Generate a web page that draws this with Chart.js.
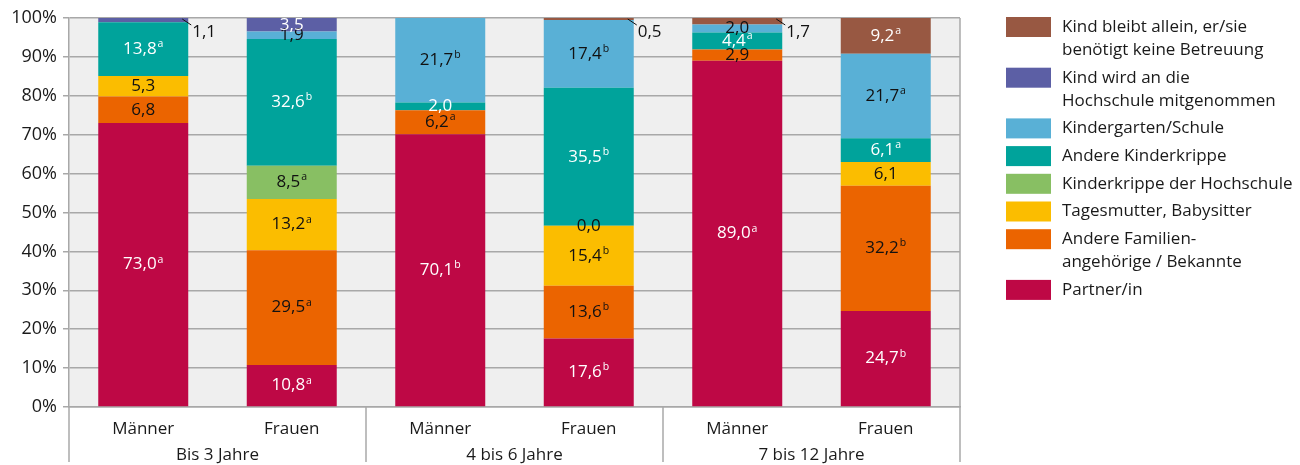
<!DOCTYPE html>
<html>
<head>
<meta charset="utf-8">
<script src="https://cdn.jsdelivr.net/npm/chart.js@4.4.1/dist/chart.umd.min.js"></script>
<style>
html,body{margin:0;padding:0;background:#fff;}
#wrap{width:1300px;height:465px;}
</style>
</head>
<body>
<div id="wrap"><canvas id="c" width="1300" height="465"></canvas></div>
<script>
// ---- data ----
const categories = ['Männer', 'Frauen', 'Männer', 'Frauen', 'Männer', 'Frauen'];
const groups = ['Bis 3 Jahre', '4 bis 6 Jahre', '7 bis 12 Jahre'];
const seriesNames = [
  ['Partner/in'],
  ['Andere Familien-', 'angehörige / Bekannte'],
  ['Tagesmutter, Babysitter'],
  ['Kinderkrippe der Hochschule'],
  ['Andere Kinderkrippe'],
  ['Kindergarten/Schule'],
  ['Kind wird an die', 'Hochschule mitgenommen'],
  ['Kind bleibt allein, er/sie', 'benötigt keine Betreuung']
];
const partner      = [73.0, 10.8, 70.1, 17.6, 89.0, 24.7];
const familie      = [6.8, 29.5, 6.2, 13.6, 2.9, 32.2];
const tagesmutter  = [5.3, 13.2, null, 15.4, null, 6.1];
const krippeHS     = [null, 8.5, null, 0.0, null, null];
const andereKrippe = [13.8, 32.6, 2.0, 35.5, 4.4, 6.1];
const kindergarten = [null, 1.9, 21.7, 17.4, 2.0, 21.7];
const mitgenommen  = [1.1, 3.5, null, null, null, null];
const allein       = [null, null, null, 0.5, 1.7, 9.2];

const supPartner      = ['a', 'a', 'b', 'b', 'a', 'b'];
const supFamilie      = ['', 'a', 'a', 'b', '', 'b'];
const supTagesmutter  = ['', 'a', '', 'b', '', ''];
const supKrippeHS     = ['', 'a', '', '', '', ''];
const supAndereKrippe = ['a', 'b', '', 'b', 'a', 'a'];
const supKindergarten = ['', '', 'b', 'b', '', 'a'];
const supMitgenommen  = ['', '', '', '', '', ''];
const supAllein       = ['', '', '', '', '', 'a'];

const yTicks = [0, 10, 20, 30, 40, 50, 60, 70, 80, 90, 100];

// ---- styles ----
const seriesValues = [partner, familie, tagesmutter, krippeHS, andereKrippe, kindergarten, mitgenommen, allein];
const seriesSups = [supPartner, supFamilie, supTagesmutter, supKrippeHS, supAndereKrippe, supKindergarten, supMitgenommen, supAllein];
const colors = ['#BE0845', '#EB6400', '#FBBD00', '#88BF63', '#00A39B', '#59B0D6', '#5C5FA5', '#985842'];
const labelColors = ['#fff', '#111', '#111', '#111', '#fff', '#111', '#fff', '#fff'];
const FONT = "'Open Sans', sans-serif";
const GRID = '#A8A8A8';
const TEXT = '#1a1a1a';

Chart.defaults.font.family = FONT;
Chart.defaults.color = TEXT;

const datasets = seriesValues.map((vals, i) => ({
  label: seriesNames[i].join(' '),
  data: vals,
  backgroundColor: colors[i],
  borderWidth: 0,
  categoryPercentage: 1,
  barPercentage: 0.606
}));

const bgPlugin = {
  id: 'bg',
  beforeDraw(chart) {
    const {ctx, chartArea: a} = chart;
    ctx.save();
    ctx.fillStyle = '#fff';
    ctx.fillRect(0, 0, chart.width, chart.height);
    ctx.fillStyle = '#EFEFEF';
    ctx.fillRect(a.left, a.top, a.right - a.left, a.bottom - a.top);
    ctx.restore();
  }
};

const labelPlugin = {
  id: 'vals',
  afterDatasetsDraw(chart) {
    const ctx = chart.ctx;
    ctx.save();
    chart.data.datasets.forEach((ds, i) => {
      const meta = chart.getDatasetMeta(i);
      meta.data.forEach((bar, j) => {
        const v = ds.data[j];
        if (v === null || v === undefined) return;
        const txt = v.toFixed(1).replace('.', ',');
        const sup = seriesSups[i][j] || '';
        const mainFont = '17px ' + FONT;
        const supFont = '10.5px ' + FONT;
        ctx.font = mainFont;
        const w1 = ctx.measureText(txt).width;
        ctx.font = supFont;
        const w2 = sup ? ctx.measureText(sup).width + 1 : 0;
        const top = Math.min(bar.y, bar.base);
        const right = bar.x + bar.width / 2;
        let x, y, col;
        if (v > 0 && v < 1.8) {
          ctx.strokeStyle = '#111';
          ctx.lineWidth = 1;
          ctx.beginPath();
          ctx.moveTo(right - 6, top + 1);
          ctx.lineTo(right + 3, top + 7);
          ctx.stroke();
          x = right + 4;
          y = top + 14;
          col = '#111';
        } else {
          x = bar.x - (w1 + w2) / 2;
          y = (bar.y + bar.base) / 2;
          col = labelColors[i];
        }
        ctx.fillStyle = col;
        ctx.textAlign = 'left';
        ctx.textBaseline = 'middle';
        ctx.font = mainFont;
        ctx.fillText(txt, x, y);
        if (sup) {
          ctx.font = supFont;
          ctx.fillText(sup, x + w1 + 1, y - 5);
        }
      });
    });
    ctx.restore();
  }
};

const decoPlugin = {
  id: 'deco',
  afterDraw(chart) {
    const {ctx, chartArea: a} = chart;
    const xs = chart.scales.x;
    const bottom = 462;
    ctx.save();
    ctx.strokeStyle = GRID;
    ctx.lineWidth = 1.5;
    const step = (a.right - a.left) / categories.length;
    for (let g = 0; g <= groups.length; g++) {
      const x = a.left + g * 2 * step;
      ctx.beginPath();
      ctx.moveTo(x, g === groups.length ? a.top : a.bottom);
      ctx.lineTo(x, bottom);
      ctx.stroke();
    }
    ctx.fillStyle = TEXT;
    ctx.font = '17px ' + FONT;
    ctx.textAlign = 'center';
    ctx.textBaseline = 'middle';
    groups.forEach((g, k) => {
      const cx = (xs.getPixelForValue(2 * k) + xs.getPixelForValue(2 * k + 1)) / 2;
      ctx.fillText(g, cx, 455);
    });
    const lx = 1006, tx = 1062;
    let ly = 27;
    for (let i = chart.data.datasets.length - 1; i >= 0; i--) {
      const lines = seriesNames[i];
      ctx.fillStyle = colors[i];
      ctx.fillRect(lx, ly - 10, 45, 20);
      ctx.fillStyle = TEXT;
      ctx.textAlign = 'left';
      lines.forEach((ln, m) => ctx.fillText(ln, tx, ly + m * 23));
      ly += (lines.length - 1) * 23 + 27.7;
    }
    ctx.restore();
  }
};

new Chart(document.getElementById('c'), {
  type: 'bar',
  data: { labels: categories, datasets },
  options: {
    responsive: false,
    animation: false,
    layout: { padding: { left: 0, right: 340, top: 18, bottom: 0 } },
    plugins: { legend: { display: false }, tooltip: { enabled: false } },
    scales: {
      x: {
        stacked: true,
        grid: { display: true, drawOnChartArea: false, drawTicks: false, color: GRID },
        border: { display: true, color: GRID, width: 1.5 },
        ticks: { font: { size: 17 }, color: TEXT, padding: 12, maxRotation: 0 },
        afterFit(s) { s.height = 58; }
      },
      y: {
        stacked: true,
        min: 0, max: 100,
        afterBuildTicks(s) { s.ticks = yTicks.map(v => ({ value: v })); },
        grid: { color: GRID, lineWidth: 1.5, tickLength: 6 },
        border: { display: true, color: GRID, width: 1.5 },
        ticks: { font: { size: 18 }, color: TEXT, padding: 6, callback: v => v + '%' },
        afterFit(s) { s.width = 69; }
      }
    }
  },
  plugins: [bgPlugin, labelPlugin, decoPlugin]
});
</script>
</body>
</html>
